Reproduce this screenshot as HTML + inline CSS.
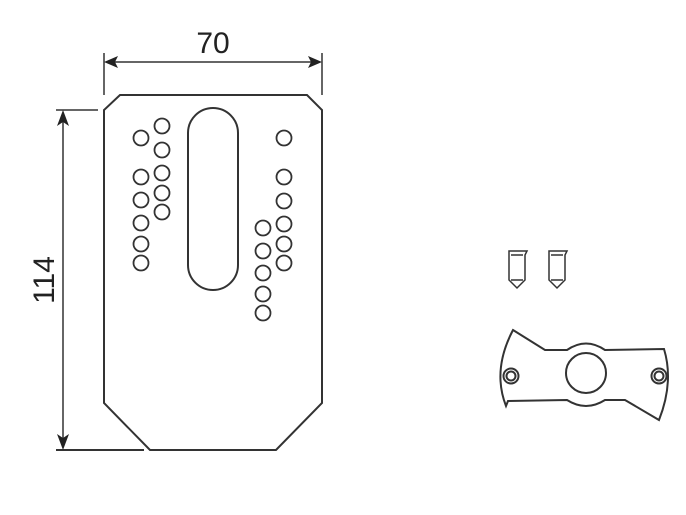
<!DOCTYPE html>
<html><head><style>body{margin:0;background:#fff}svg{display:block}</style></head><body>
<svg width="686" height="515" viewBox="0 0 686 515" xmlns="http://www.w3.org/2000/svg">
<g fill="none" stroke="#333" stroke-width="2">
<path d="M120 95 L307 95 L322 110 L322 403 L276 450 L150 450 L104 403 L104 110 Z"/>
<rect x="188" y="108" width="50" height="182" rx="25"/>
<g stroke-width="1.8">
<circle cx="141" cy="138" r="7.5"/><circle cx="141" cy="177" r="7.5"/><circle cx="141" cy="200" r="7.5"/><circle cx="141" cy="223" r="7.5"/><circle cx="141" cy="244" r="7.5"/><circle cx="141" cy="263" r="7.5"/>
<circle cx="162" cy="126" r="7.5"/><circle cx="162" cy="150" r="7.5"/><circle cx="162" cy="173" r="7.5"/><circle cx="162" cy="193" r="7.5"/><circle cx="162" cy="212" r="7.5"/>
<circle cx="284" cy="138" r="7.5"/><circle cx="284" cy="177" r="7.5"/><circle cx="284" cy="201" r="7.5"/><circle cx="284" cy="224" r="7.5"/><circle cx="284" cy="244" r="7.5"/><circle cx="284" cy="263" r="7.5"/>
<circle cx="263" cy="228" r="7.5"/><circle cx="263" cy="251" r="7.5"/><circle cx="263" cy="273" r="7.5"/><circle cx="263" cy="294" r="7.5"/><circle cx="263" cy="313" r="7.5"/>
</g>
<!-- dims -->
<line x1="104" y1="53" x2="104" y2="95" stroke-width="1.5"/>
<line x1="322" y1="53" x2="322" y2="95" stroke-width="1.5"/>
<line x1="110" y1="62" x2="316" y2="62" stroke-width="1.5"/>
<line x1="56" y1="110" x2="98" y2="110" stroke-width="1.5"/>
<line x1="56" y1="450" x2="144" y2="450" stroke-width="2"/>
<line x1="63" y1="116" x2="63" y2="444" stroke-width="1.5"/>
<!-- screws -->
<g stroke-width="1.5">
<path d="M509 251 L527 251 L525 255 L525 280 L517 288 L509 280 L509 255 Z"/>
<path d="M511 255 L523 255 M511 280 L523 280"/>
<path d="M549 251 L567 251 L565 255 L565 280 L557 288 L549 280 L549 255 Z"/>
<path d="M551 255 L563 255 M551 280 L563 280"/>
</g>
<!-- bracket -->
<path d="M513 330 L545 350 L567 350 Q586 337 605 350 L664 349 Q674 382 659 420 L625 400 L605 400 Q586 412 567 400 L508 401 L506 406 Q492 370 513 330 Z"/>
<circle cx="586" cy="373" r="20"/>
<circle cx="511" cy="376" r="7.5"/><circle cx="511" cy="376" r="4.5"/>
<circle cx="659" cy="376" r="7.5"/><circle cx="659" cy="376" r="4.5"/>
</g>
<g fill="#222">
<path d="M104 62 L118 56 L115 62 L118 68 Z"/>
<path d="M322 62 L308 56 L311 62 L308 68 Z"/>
<path d="M63 110 L57 126 L63 122 L69 126 Z"/>
<path d="M63 450 L57 434 L63 438 L69 434 Z"/>
</g>
<text x="213" y="53" font-family="Liberation Sans, sans-serif" font-size="30" text-anchor="middle" fill="#222">70</text>
<text transform="translate(54 280) rotate(-90)" font-family="Liberation Sans, sans-serif" font-size="30" text-anchor="middle" fill="#222">114</text>
</svg>
</body></html>
